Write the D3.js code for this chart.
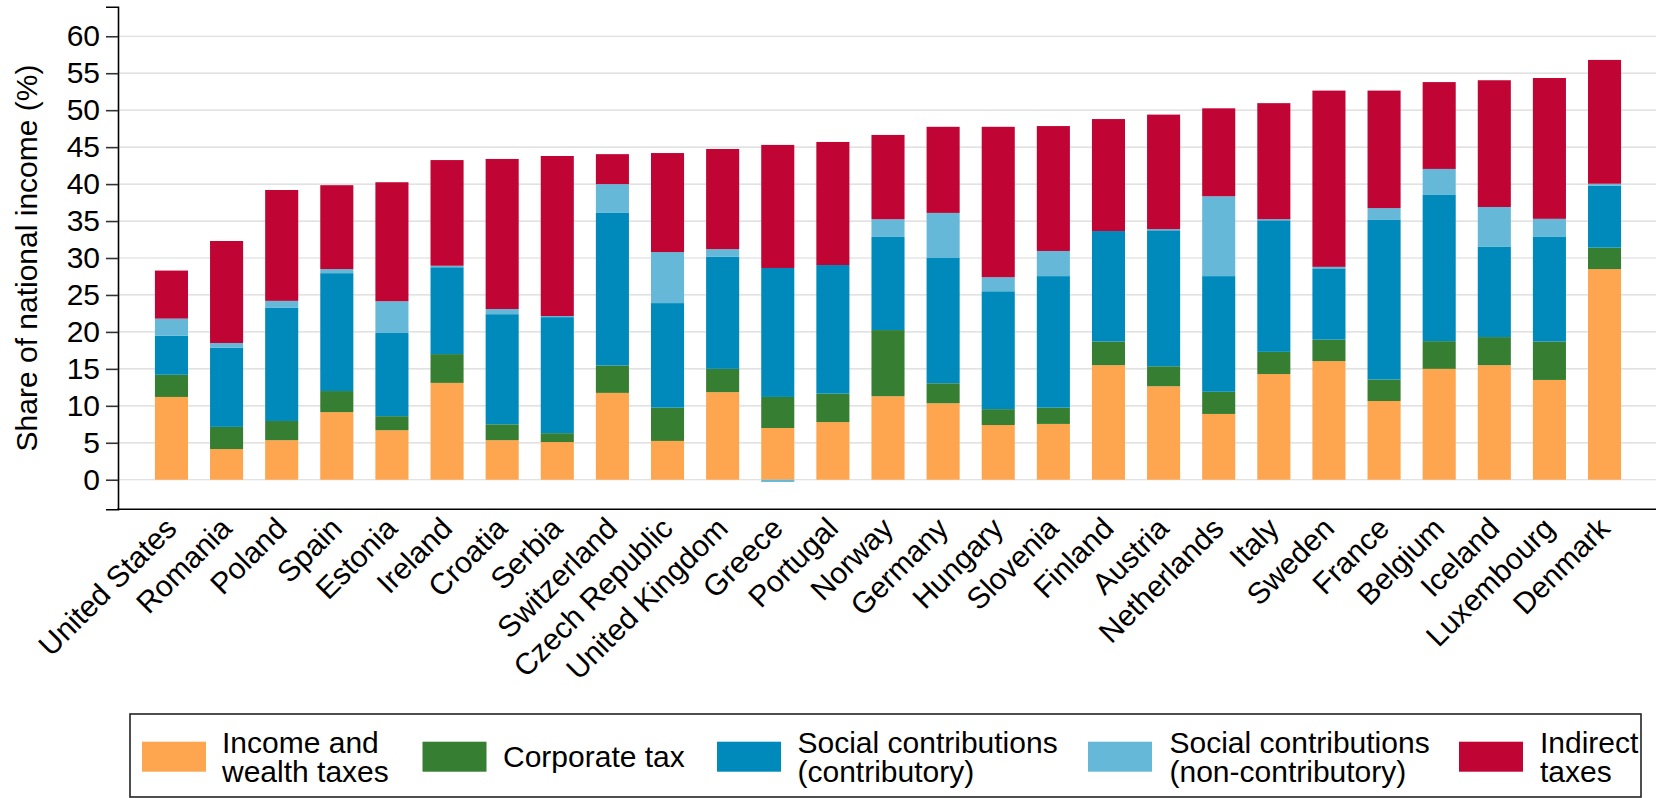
<!DOCTYPE html>
<html>
<head>
<meta charset="utf-8">
<script src="https://cdn.jsdelivr.net/npm/d3@7"></script>
<style>
  html, body { margin: 0; padding: 0; background: #ffffff; }
  svg { display: block; }
  text { font-family: "Liberation Sans", Arial, Helvetica, sans-serif; fill: #000; }
</style>
</head>
<body>
<svg id="chart" width="1656" height="798"></svg>
<script>
// ---------- data ----------
const countries = ["United States","Romania","Poland","Spain","Estonia","Ireland","Croatia","Serbia",
  "Switzerland","Czech Republic","United Kingdom","Greece","Portugal","Norway","Germany","Hungary",
  "Slovenia","Finland","Austria","Netherlands","Italy","Sweden","France","Belgium","Iceland",
  "Luxembourg","Denmark"];
const incomeWealth   = [11.2, 4.15, 5.35, 9.15, 6.7, 13.1, 5.35, 5.1, 11.75, 5.25, 11.85, 7.0, 7.8, 11.3, 10.35, 7.4, 7.55, 15.5, 12.65, 8.9, 14.3, 16.05, 10.65, 15.0, 15.5, 13.5, 28.5];
const corporateTax   = [3.0, 3.0, 2.6, 2.85, 1.9, 3.9, 2.15, 1.2, 3.7, 4.5, 3.15, 4.2, 3.85, 8.95, 2.7, 2.15, 2.2, 3.2, 2.7, 3.0, 3.0, 2.9, 2.9, 3.75, 3.8, 5.2, 2.9];
const socContrib     = [5.3, 10.7, 15.3, 15.95, 11.25, 11.75, 14.9, 15.7, 20.65, 14.15, 15.15, 17.45, 17.4, 12.6, 16.95, 15.95, 17.8, 14.95, 18.4, 15.65, 17.8, 9.65, 21.6, 19.85, 12.2, 14.15, 8.4];
const socNonContrib  = [2.3, 0.65, 0.95, 0.55, 4.3, 0.2, 0.7, 0.15, 3.9, 6.9, 1.05, -0.3, 0.0, 2.4, 6.1, 1.9, 3.4, 0.0, 0.15, 10.8, 0.15, 0.2, 1.6, 3.45, 5.4, 2.45, 0.25];
const indirectTaxes  = [6.5, 13.8, 15.0, 11.35, 16.1, 14.3, 20.3, 21.65, 4.05, 13.4, 13.55, 16.65, 16.65, 11.4, 11.65, 20.35, 16.9, 15.15, 15.5, 11.9, 15.7, 23.85, 15.9, 11.75, 17.15, 19.05, 16.75];

const seriesKeys   = ["income", "corporate", "scContrib", "scNonContrib", "indirect"];
const seriesLabels = [["Income and", "wealth taxes"], ["Corporate tax"], ["Social contributions", "(contributory)"], ["Social contributions", "(non-contributory)"], ["Indirect", "taxes"]];
const seriesColors = ["#fea54f", "#367f32", "#008abc", "#65b8d7", "#c00535"];
const yTicks = [0, 5, 10, 15, 20, 25, 30, 35, 40, 45, 50, 55, 60];
const yTitle = "Share of national income (%)";

// ---------- build table ----------
const seriesValues = [incomeWealth, corporateTax, socContrib, socNonContrib, indirectTaxes];
const table = countries.map((c, i) => {
  const row = { country: c };
  seriesKeys.forEach((k, j) => { row[k] = seriesValues[j][i]; });
  return row;
});

const stacked = d3.stack()
  .keys(seriesKeys)
  .offset(d3.stackOffsetDiverging)(table);

// ---------- layout ----------
const svg = d3.select("#chart");
const plotLeft = 118, plotRight = 1656;

const x = d3.scaleBand()
  .domain(countries)
  .range([143.9, 1632.1])
  .paddingInner(0.4)
  .paddingOuter(0.2);

const y = d3.scaleLinear()
  .domain([-4, 64])
  .range([509.3, 6.7]);

// gridlines
svg.append("g")
  .selectAll("line")
  .data(yTicks)
  .join("line")
  .attr("x1", plotLeft)
  .attr("x2", plotRight)
  .attr("y1", d => y(d))
  .attr("y2", d => y(d))
  .attr("stroke", "#d9d9d9")
  .attr("stroke-width", 1.2);

// bars
const colorOf = d3.scaleOrdinal().domain(seriesKeys).range(seriesColors);
svg.append("g")
  .selectAll("g")
  .data(stacked)
  .join("g")
  .attr("fill", d => colorOf(d.key))
  .selectAll("rect")
  .data(d => d)
  .join("rect")
  .attr("x", d => x(d.data.country))
  .attr("width", x.bandwidth())
  .attr("y", d => y(Math.max(d[0], d[1])))
  .attr("height", d => Math.abs(y(d[0]) - y(d[1])));

// y axis
const yAxis = d3.axisLeft(y)
  .tickValues(yTicks)
  .tickSize(12)
  .tickPadding(6)
  .tickFormat(d3.format("d"));
const gy = svg.append("g")
  .attr("transform", `translate(${plotLeft},0)`)
  .call(yAxis);
gy.select(".domain").attr("stroke", "#000").attr("stroke-width", 1.6);
gy.selectAll(".tick line").attr("stroke", "#333").attr("stroke-width", 1.6);
gy.selectAll(".tick text")
  .attr("font-size", 30)
  .attr("font-family", "'Liberation Sans', Arial, sans-serif")
  .attr("fill", "#000");

// x axis
const xAxis = d3.axisBottom(x).tickSize(0).tickPadding(0);
const gx = svg.append("g")
  .attr("transform", `translate(0,${y(-4)})`)
  .call(xAxis);
gx.select(".domain").remove();
svg.append("line")
  .attr("x1", plotLeft - 0.8)
  .attr("x2", plotRight)
  .attr("y1", y(-4))
  .attr("y2", y(-4))
  .attr("stroke", "#000")
  .attr("stroke-width", 1.6);
gx.selectAll(".tick text")
  .attr("font-size", 30)
  .attr("font-family", "'Liberation Sans', Arial, sans-serif")
  .attr("fill", "#000")
  .attr("text-anchor", "end")
  .attr("dy", null)
  .attr("y", null)
  .attr("transform", "translate(7,21) rotate(-45)");

// y title
svg.append("text")
  .attr("transform", `translate(37,${(y(-4) + y(64)) / 2}) rotate(-90)`)
  .attr("text-anchor", "middle")
  .attr("font-size", 30)
  .text(yTitle);

// legend
const legend = svg.append("g");
legend.append("rect")
  .attr("x", 130).attr("y", 714)
  .attr("width", 1511).attr("height", 83)
  .attr("fill", "none")
  .attr("stroke", "#222")
  .attr("stroke-width", 1.6);

const swatchX = [142, 422.5, 717, 1088, 1459];
const textX   = [222, 503, 797.5, 1169.5, 1540];
seriesKeys.forEach((k, i) => {
  legend.append("rect")
    .attr("x", swatchX[i]).attr("y", 741.7)
    .attr("width", 64).attr("height", 30)
    .attr("fill", seriesColors[i]);
  const lines = seriesLabels[i];
  const t = legend.append("text")
    .attr("font-size", 30)
    .attr("x", textX[i]);
  if (lines.length === 1) {
    t.attr("y", 767).text(lines[0]);
  } else {
    lines.forEach((ln, j) => {
      t.append("tspan").attr("x", textX[i]).attr("y", 753 + j * 28.7).text(ln);
    });
  }
});
</script>
</body>
</html>
